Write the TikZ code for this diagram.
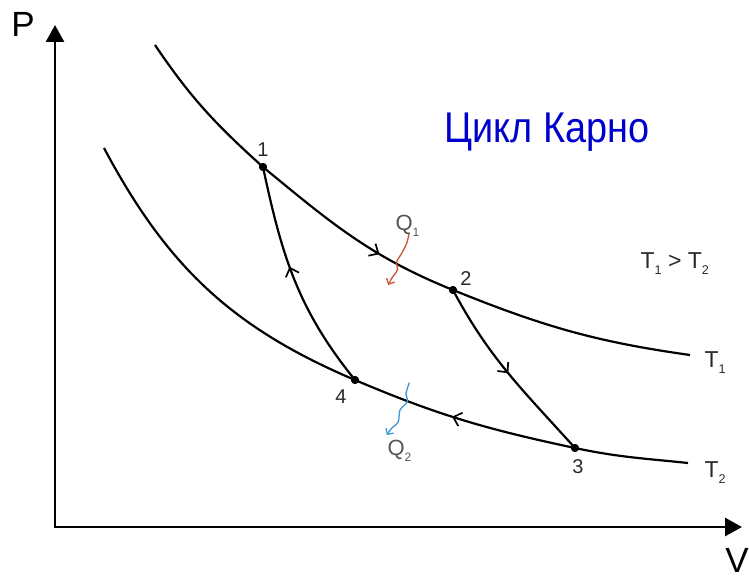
\documentclass[tikz,border=0pt]{standalone}
\usepackage{fontspec}
\setmainfont{Liberation Sans}
\usetikzlibrary{arrows.meta,decorations.markings}
\definecolor{lbl}{HTML}{2A2A2A}
\definecolor{qlbl}{HTML}{555555}
\definecolor{qred}{HTML}{C8553A}
\definecolor{qblue}{HTML}{3A9AD0}
\definecolor{ttl}{HTML}{0000CC}
\newcommand\sbs[1]{\raisebox{-0.3em}{\scalebox{0.55}{#1}}}
\begin{document}
\begin{tikzpicture}[x=1pt,y=1pt,
  curve/.style={line width=2.2pt, black},
  axis/.style={line width=2.8pt, -{Triangle[length=17pt,width=18pt]}},
  midarrow/.style={postaction={decorate}, decoration={markings, mark=at position #1 with {\arrow{Straight Barb[length=7.5pt,width=14pt,line width=1.7pt]}}}},
  dot/.style={circle, fill=black, inner sep=0pt, minimum size=8pt},
  num/.style={font=\fontsize{20}{20}\selectfont, text=lbl, anchor=base},
  tlbl/.style={font=\fontsize{23}{23}\selectfont, text=lbl, anchor=base west},
  qtxt/.style={font=\fontsize{22}{22}\selectfont, text=qlbl, anchor=base west},
  axlbl/.style={font=\fontsize{35}{35}\selectfont, text=black, anchor=base},
  wave/.style={line width=1.3pt, -{Straight Barb[length=4.5pt,width=9pt]}}]
\useasboundingbox (0,0) rectangle (749,-580);
% axes
\coordinate (O) at (55,-527);
\coordinate (ytip) at (55,-25);
\coordinate (xtip) at (742,-527);
\draw[axis] (55,-528.4) -- (ytip);
\draw[axis] (53.6,-527) -- (xtip);
\node[axlbl] (P) at (23,-37) {P};
\node[axlbl] (V) at (737,-572) {V};
% points
\node[dot] (p1) at (263,-167) {};
\node[dot] (p2) at (453,-290) {};
\node[dot] (p3) at (575,-448) {};
\node[dot] (p4) at (355,-380) {};
\coordinate (t1s) at (155,-45);
\coordinate (t1e) at (690,-355);
\coordinate (t2s) at (104,-148);
\coordinate (t2e) at (688,-463);
% isotherms
\draw[curve] (t1s) to[out=-56,in=138] (p1.center);
\draw[curve, midarrow=0.64] (p1.center) to[out=-39.5,in=158] (p2.center);
\draw[curve] (p2.center) to[out=-22,in=172] (t1e);
\draw[curve] (t2s) to[out=-62,in=157] (p4.center);
\draw[curve, midarrow=0.55] (p3.center) to[out=168,in=-23] (p4.center);
\draw[curve] (p3.center) to[out=-12,in=174] (t2e);
% adiabats
\draw[curve, midarrow=0.5] (p2.center) to[out=-62,in=132] (p3.center);
\draw[curve, midarrow=0.56] (p4.center) to[out=129,in=-78] (p1.center);
% redraw dots on top
\fill (p1.center) circle (4pt) (p2.center) circle (4pt) (p3.center) circle (4pt) (p4.center) circle (4pt);
% point labels
\node[num] (n1) at (263,-157) {1};
\node[num] (n2) at (466,-285) {2};
\node[num] (n3) at (578,-473) {3};
\node[num] (n4) at (341,-403) {4};
% temperature labels
\node[tlbl] (T1) at (701,-367) {T\sbs{1}};
\node[tlbl] (T2) at (701,-477) {T\sbs{2}};
\node[tlbl] (Tcmp) at (637,-268) {T\sbs{1} > T\sbs{2}};
% heat arrows
\draw[wave, qred] plot[smooth] coordinates {(409.3,-232.7) (406.7,-243.3) (401.7,-253.3) (396.7,-261.7) (397.3,-270) (391.7,-278.3) (388.3,-285)};
\draw[wave, qblue] plot[smooth] coordinates {(409.3,-382.7) (406,-393.3) (407.3,-401.7) (400,-410) (398.3,-421.7) (391.7,-428.3) (386.7,-435)};
\node[qtxt] (Q1) at (392,-230) {Q\sbs{1}};
\node[qtxt] (Q2) at (384,-455) {Q\sbs{2}};
% title
\node[text=ttl, font=\fontsize{43}{43}\selectfont, anchor=base] (title) at (547,-143) {\scalebox{0.88}[1]{Цикл Карно}};
\end{tikzpicture}
\end{document}
